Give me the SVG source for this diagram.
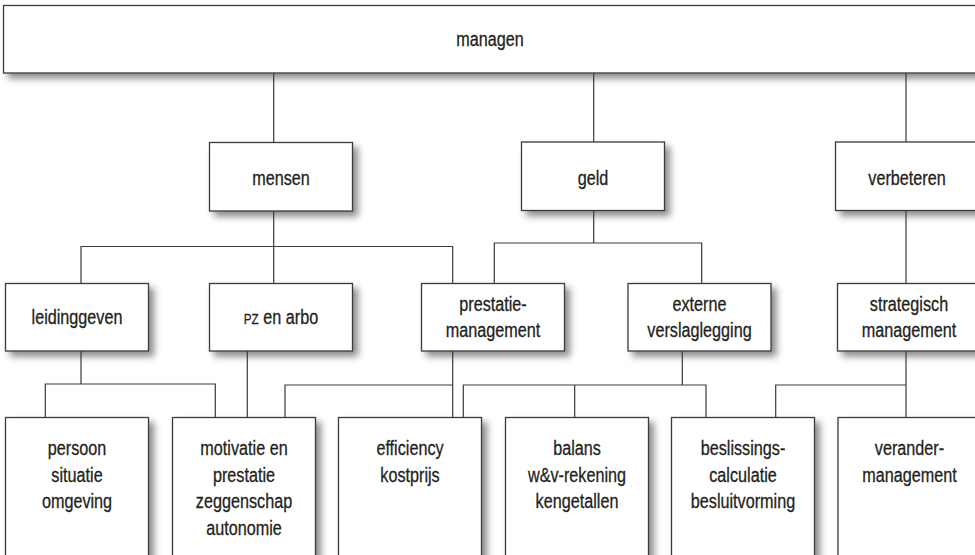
<svg xmlns="http://www.w3.org/2000/svg" width="975" height="555" viewBox="0 0 975 555">
<defs>
<filter id="sh" x="-10%" y="-10%" width="130%" height="140%">
<feDropShadow dx="5" dy="5" stdDeviation="3.5" flood-color="#000" flood-opacity="0.45"/>
</filter>
<style>
.box{fill:#fff;stroke:#3a3a3a;stroke-width:1.3;filter:url(#sh)}
.t{font-family:"Liberation Sans",Arial,sans-serif;font-size:20px;fill:#231f20;stroke:#231f20;stroke-width:0.3;text-anchor:middle}
.sc{font-size:14.5px}
.c{fill:none;stroke:#3a3a3a;stroke-width:1.2}
</style>
</defs>
<rect width="975" height="555" fill="#fff"/>
<g id="managen"><rect class="box" x="3.5" y="5.5" width="980" height="67.5"/><text class="t" transform="translate(490,0) scale(0.81,1)" x="0" y="46">managen</text></g>
<g id="mensen"><rect class="box" x="209.5" y="142.5" width="143" height="68.5"/><text class="t" transform="translate(281,0) scale(0.81,1)" x="0" y="185">mensen</text></g>
<g id="geld"><rect class="box" x="521.5" y="142" width="143" height="68.5"/><text class="t" transform="translate(593,0) scale(0.81,1)" x="0" y="185">geld</text></g>
<g id="verbeteren"><rect class="box" x="835.5" y="142" width="143" height="68.5"/><text class="t" transform="translate(907,0) scale(0.81,1)" x="0" y="185">verbeteren</text></g>
<g id="leidinggeven"><rect class="box" x="5.5" y="283.5" width="143" height="67.5"/><text class="t" transform="translate(77,0) scale(0.81,1)" x="0" y="324">leidinggeven</text></g>
<g id="pz-en-arbo"><rect class="box" x="209.5" y="283.5" width="143" height="67.5"/><text class="t" transform="translate(281,0) scale(0.81,1)" x="0" y="324"><tspan class="sc">PZ</tspan> en arbo</text></g>
<g id="prestatiemanagement"><rect class="box" x="421.5" y="283.5" width="143" height="67.5"/><text class="t" transform="translate(493,0) scale(0.81,1)" x="0" y="311"><tspan x="0">prestatie-</tspan><tspan x="0" y="337.5">management</tspan></text></g>
<g id="externe-verslaglegging"><rect class="box" x="628" y="283.5" width="143" height="67.5"/><text class="t" transform="translate(699.5,0) scale(0.81,1)" x="0" y="311"><tspan x="0">externe</tspan><tspan x="0" y="337.5">verslaglegging</tspan></text></g>
<g id="strategisch-management"><rect class="box" x="837.5" y="283.5" width="143" height="67.5"/><text class="t" transform="translate(909,0) scale(0.81,1)" x="0" y="311"><tspan x="0">strategisch</tspan><tspan x="0" y="337.5">management</tspan></text></g>
<g id="persoon"><rect class="box" x="5.5" y="417.5" width="143" height="160"/><text class="t" transform="translate(77,0) scale(0.81,1)" y="455"><tspan x="0">persoon</tspan><tspan x="0" y="481.7">situatie</tspan><tspan x="0" y="508.3">omgeving</tspan></text></g>
<g id="motivatie"><rect class="box" x="172.5" y="417.5" width="143" height="160"/><text class="t" transform="translate(244,0) scale(0.81,1)" y="455"><tspan x="0">motivatie en</tspan><tspan x="0" y="481.7">prestatie</tspan><tspan x="0" y="508.3">zeggenschap</tspan><tspan x="0" y="535">autonomie</tspan></text></g>
<g id="efficiency"><rect class="box" x="338.5" y="417.5" width="143" height="160"/><text class="t" transform="translate(410,0) scale(0.81,1)" y="455"><tspan x="0">efficiency</tspan><tspan x="0" y="481.7">kostprijs</tspan></text></g>
<g id="balans"><rect class="box" x="505.5" y="417.5" width="143" height="160"/><text class="t" transform="translate(577,0) scale(0.81,1)" y="455"><tspan x="0">balans</tspan><tspan x="0" y="481.7">w&amp;v-rekening</tspan><tspan x="0" y="508.3">kengetallen</tspan></text></g>
<g id="beslissingscalculatie"><rect class="box" x="671.5" y="417.5" width="143" height="160"/><text class="t" transform="translate(743,0) scale(0.81,1)" y="455"><tspan x="0">beslissings-</tspan><tspan x="0" y="481.7">calculatie</tspan><tspan x="0" y="508.3">besluitvorming</tspan></text></g>
<g id="verandermanagement"><rect class="box" x="838" y="417.5" width="143" height="160"/><text class="t" transform="translate(909.5,0) scale(0.81,1)" y="455"><tspan x="0">verander-</tspan><tspan x="0" y="481.7">management</tspan></text></g>
<g id="connectors">
<path class="c" d="M273.7,73 V142.5 M593.7,73 V142 M906,73 V142"/>
<path class="c" d="M273.7,211 V246.5 M81,283.5 V246.5 H452.7 V283.5 M273.7,246.5 V283.5"/>
<path class="c" d="M593.7,210.5 V243 M494.3,283.5 V243 H701.7 V283.5"/>
<path class="c" d="M906,210.5 V283.5"/>
<path class="c" d="M81,351 V384 M45.3,417.5 V384 H215.3 V417.5"/>
<path class="c" d="M247.3,351 V417.5"/>
<path class="c" d="M452.7,351 V417.5 M285,417.5 V385 H452.7"/>
<path class="c" d="M682.3,351 V385 M463.3,417.5 V385 H706 V417.5 M574.7,385 V417.5"/>
<path class="c" d="M906,351 V417.5 M775.7,417.5 V385 H906"/>
</g>
</svg>
